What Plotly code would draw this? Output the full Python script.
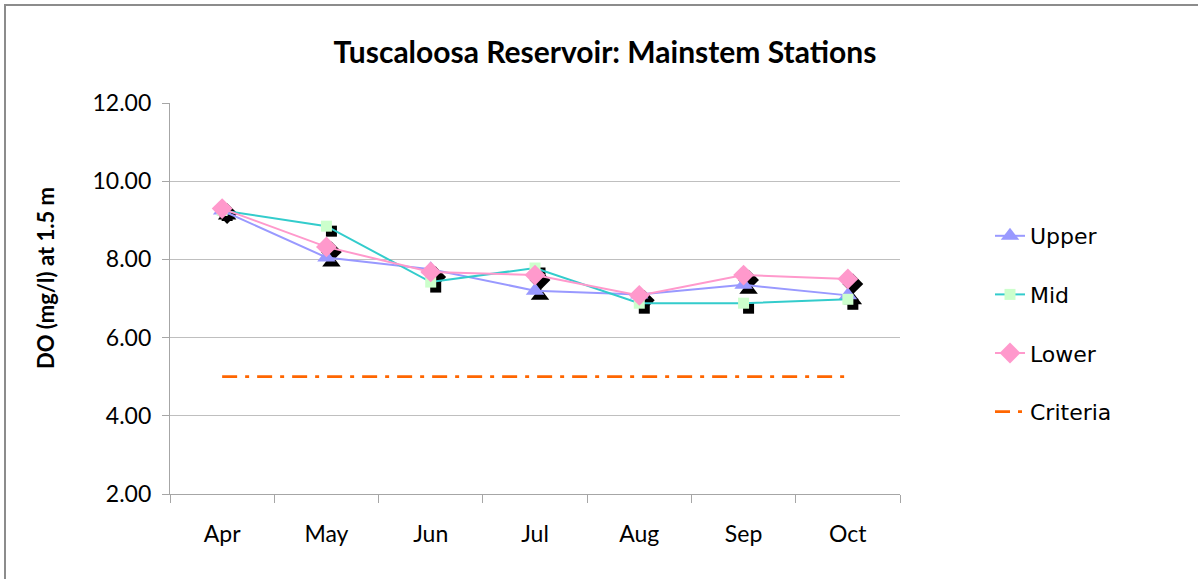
import plotly.graph_objects as go

months = ["Apr", "May", "Jun", "Jul", "Aug", "Sep", "Oct"]
upper = [9.25, 8.05, 7.75, 7.20, 7.10, 7.35, 7.08]
mid = [9.25, 8.85, 7.42, 7.78, 6.88, 6.88, 6.98]
lower = [9.30, 8.32, 7.68, 7.60, 7.08, 7.60, 7.50]
criteria = [5.0, 5.0, 5.0, 5.0, 5.0, 5.0, 5.0]

W, H = 1198, 579
L, T = 170, 103
PW, PH = 730, 391      # main plot area
SH = 5                 # shadow offset in px
TW, TH = PW + SH, PH + SH
R = W - L - TW
B = H - T - TH
dx = SH / TW
dy = SH / TH

series = [
    ("Upper", upper, "#9999FF", "#9999FF", "triangle-up", 16),
    ("Mid", mid, "#33CCCC", "#CCFFCC", "square", 11),
    ("Lower", lower, "#FF99CC", "#FF99CC", "diamond", 16),
]

fig = go.Figure()

# shadow markers (drawn first, underneath)
for name, vals, lc, mc, sym, sz in series:
    fig.add_trace(go.Scatter(
        x=months, y=vals, mode="markers", xaxis="x", yaxis="y",
        marker=dict(symbol=sym, size=sz, color="black", line=dict(width=0)),
        showlegend=False, hoverinfo="skip"))

for i, (name, vals, lc, mc, sym, sz) in enumerate(series):
    fig.add_trace(go.Scatter(
        x=months, y=vals, mode="lines+markers", name=name,
        xaxis="x2", yaxis="y2", legendgroup=name,
        line=dict(color=lc, width=2),
        marker=dict(symbol=sym, size=sz, color=mc, line=dict(width=0))))

fig.add_trace(go.Scatter(
    x=months, y=criteria, mode="lines", name="Criteria",
    xaxis="x2", yaxis="y2", legendgroup="Criteria",
    line=dict(color="#FF6600", width=2.7, dash="15px,8px,4px,8px")))

axis_col = "#A6A6A6"
tickfont = dict(family="Lato, Carlito, sans-serif", size=23, color="black")

fig.update_layout(
    width=W, height=H,
    margin=dict(l=L, r=R, t=T, b=B),
    paper_bgcolor="white", plot_bgcolor="rgba(0,0,0,0)",
    showlegend=True,
    title=dict(text="<b>Tuscaloosa Reservoir: Mainstem Stations</b>",
               x=0.505, xanchor="center", y=1 - 52 / H, yanchor="middle",
               font=dict(family="Lato, Carlito, sans-serif", size=30, color="black")),
    xaxis=dict(domain=[dx, 1], anchor="y", type="category", range=[-0.5, 6.5],
               visible=False, fixedrange=True),
    yaxis=dict(domain=[0, 1 - dy], anchor="x", range=[2, 12], visible=False),
    xaxis2=dict(domain=[0, 1 - dx], anchor="y2", type="category", range=[-0.5, 6.5],
                showline=True, linecolor=axis_col, linewidth=1.3,
                ticks="outside", tickson="boundaries", ticklen=8, tickcolor=axis_col,
                tickwidth=1.3, showgrid=False, tickfont=tickfont, ticklabelstandoff=19),
    yaxis2=dict(domain=[dy, 1], anchor="x2", range=[2, 12], dtick=2, tick0=2,
                tickformat=".2f", showline=True, linecolor=axis_col, linewidth=1.3,
                ticks="outside", ticklen=7, tickcolor=axis_col, tickwidth=1.3,
                showgrid=True, gridcolor="#BFBFBF", gridwidth=1.3, zeroline=False,
                tickfont=tickfont, ticklabelstandoff=6),
    legend=dict(x=(990 - L) / TW, xanchor="left", y=(T + TH - 215) / TH,
                yanchor="top", tracegroupgap=27,
                font=dict(family="DejaVu Sans, sans-serif", size=22, color="black"),
                bgcolor="rgba(0,0,0,0)"),
    annotations=[dict(text="<b>DO (mg/l) at 1.5 m</b>", textangle=-90,
                      xref="paper", yref="paper",
                      x=(45 - L) / TW, y=(T + TH - 278) / TH,
                      xanchor="center", yanchor="middle", showarrow=False,
                      font=dict(family="Lato, Carlito, sans-serif", size=22,
                                color="black"))],
    shapes=[dict(type="rect", xref="paper", yref="paper",
                 x0=(5 - L) / TW, x1=(W + 20 - L) / TW,
                 y0=(T + TH - (H + 20)) / TH, y1=(T + TH - 5) / TH,
                 line=dict(color="#8C8C8C", width=2), fillcolor="rgba(0,0,0,0)",
                 layer="below")],
)

fig.write_html("out.html", config={"displayModeBar": False},
               post_script="document.body.style.margin='0';document.body.style.padding='0';")
